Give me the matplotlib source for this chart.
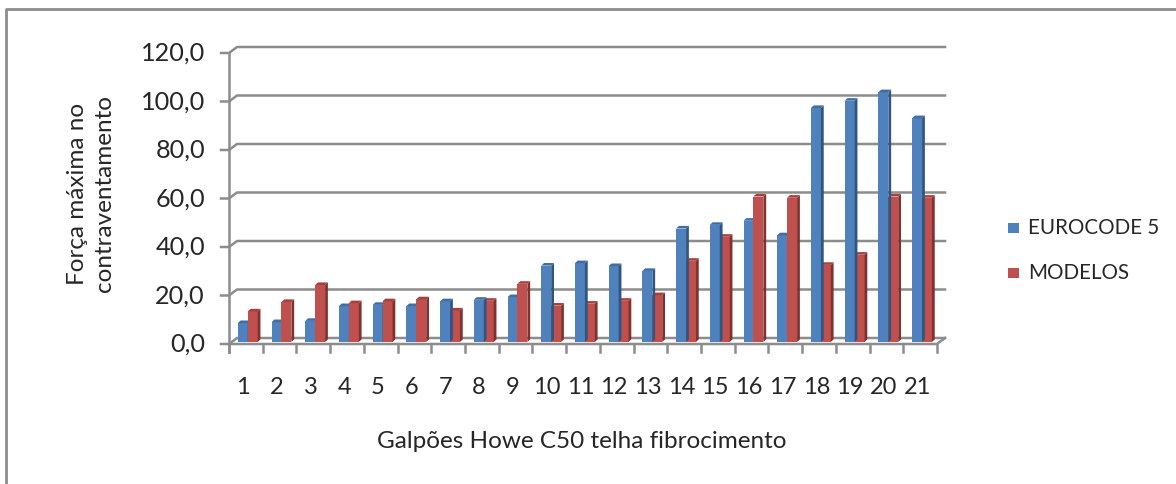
import matplotlib
matplotlib.use("Agg")
import matplotlib.pyplot as plt
from matplotlib.patches import Polygon, Rectangle
from matplotlib.transforms import IdentityTransform
from matplotlib.lines import Line2D
import numpy as np

plt.rcParams['font.family'] = ['Lato', 'DejaVu Sans']

categories = [str(i) for i in range(1, 22)]
eurocode = [7.8, 8.2, 8.7, 14.8, 15.3, 14.8, 16.8, 17.4, 18.5, 31.5, 32.5,
            31.3, 29.3, 46.8, 48.3, 50.0, 44.0, 96.5, 99.5, 103.0, 92.3]
modelos = [12.6, 16.5, 23.5, 16.0, 16.8, 17.6, 13.0, 17.0, 24.0, 15.0, 15.8,
           17.0, 19.3, 33.5, 43.4, 60.0, 59.5, 31.8, 36.0, 60.0, 59.5]
yticks = [0, 20, 40, 60, 80, 100, 120]
ytick_labels = ['0,0', '20,0', '40,0', '60,0', '80,0', '100,0', '120,0']
series_names = ['EUROCODE 5', 'MODELOS']
xlabel = 'Galpões Howe C50 telha fibrocimento'
ylabel = 'Força máxima no\ncontraventamento'

W, H = 1176, 484
GREY = '#8c8c8c'
TXT = '#262626'
fig = plt.figure(figsize=(W / 100, H / 100), dpi=100, facecolor='white')

def figbox(l, t, r, b):
    return [l / W, 1 - b / H, (r - l) / W, (b - t) / H]

ax = fig.add_axes(figbox(229, 53, 937, 344))
ax.set_xlim(0, 21)
ax.set_ylim(0, 120)
ax.axis('off')
fig.canvas.draw()
px = IdentityTransform()

def P(x, y):
    return ax.transData.transform((x, y))

DX, DY = 8, 6
LW = 1.8
for v in yticks:
    x0, y0 = P(0, v)
    x1, _ = P(21, v)
    ax.add_line(Line2D([x0 - 8, x0, x0 + DX, x1 + DX], [y0, y0, y0 + DY, y0 + DY],
                       transform=px, color=GREY, lw=LW, clip_on=False, zorder=1))
x0, y0 = P(0, 0)
x1, _ = P(21, 0)
_, yt = P(0, 120)
ax.add_line(Line2D([x0, x0], [y0 - 8, yt], transform=px, color=GREY, lw=LW, clip_on=False, zorder=1))
ax.add_line(Line2D([x0, x1, x1 + DX], [y0, y0, y0 + DY], transform=px, color=GREY, lw=LW, clip_on=False, zorder=5))
for i in range(22):
    xt, _ = P(i, 0)
    ax.add_line(Line2D([xt, xt], [y0, y0 - 8], transform=px, color=GREY, lw=LW, clip_on=False, zorder=5))

def bar3d(i, val, off, face, side, top):
    w = 0.295
    xa, yb = P(i + off, 0)
    xb, yv = P(i + off + w, val)
    yb += 2
    yv += 2
    d, e = 2.8, 2.6
    z = 3 + i * 0.01
    ax.add_patch(Rectangle((xa, yb), xb - xa, yv - yb, transform=px, fc=face, ec='none', zorder=z, clip_on=False))
    ax.add_patch(Polygon([(xb, yb), (xb + d, yb + e), (xb + d, yv + e), (xb, yv)], transform=px, fc=side, ec='none', zorder=z, clip_on=False))
    ax.add_patch(Polygon([(xa, yv), (xb, yv), (xb + d, yv + e), (xa + d, yv + e)], transform=px, fc=top, ec='none', zorder=z, clip_on=False))

BLUE = ('#4f81bd', '#2f5580', '#3f6ea6')
RED = ('#c0504d', '#7f3331', '#a83f3c')
for i, (a, b) in enumerate(zip(eurocode, modelos)):
    if a >= b:
        bar3d(i, b, 0.555, *RED)
        bar3d(i, a, 0.262, *BLUE)
    else:
        bar3d(i, a, 0.262, *BLUE)
        bar3d(i, b, 0.555, *RED)

for v, s in zip(yticks, ytick_labels):
    _, yp = P(0, v)
    fig.text(205 / W, (yp - 0.5) / H, s, ha='right', va='center', fontsize=18.2, color=TXT)
for i, s in enumerate(categories):
    xp, _ = P(i + 0.42, 0)
    fig.text(xp / W, 1 - 387 / H, s, ha='center', va='center', fontsize=17, color=TXT)

fig.text(582 / W, 1 - 441 / H, xlabel, ha='center', va='center', fontsize=17.5, color=TXT)
fig.text(91 / W, 1 - 194 / H, ylabel, ha='center', va='center', rotation=90, fontsize=17.5,
         color=TXT, linespacing=1.4, multialignment='center')

for name, c, ly in zip(series_names, ['#4f81bd', '#c0504d'], [228, 273]):
    fig.patches.append(Rectangle((1008 / W, 1 - (ly + 5) / H), 11 / W, 10 / H, transform=fig.transFigure,
                                 fc=c, ec='none'))
    fig.text(1028 / W, 1 - ly / H, name, ha='left', va='center', fontsize=14.8, color=TXT)

fig.add_artist(Line2D([6 / W, 6 / W, 1176 / W], [0, 1 - 9 / H, 1 - 9 / H], color=GREY, lw=2,
                      transform=fig.transFigure))
fig.savefig('out.png', dpi=100, facecolor='white')
